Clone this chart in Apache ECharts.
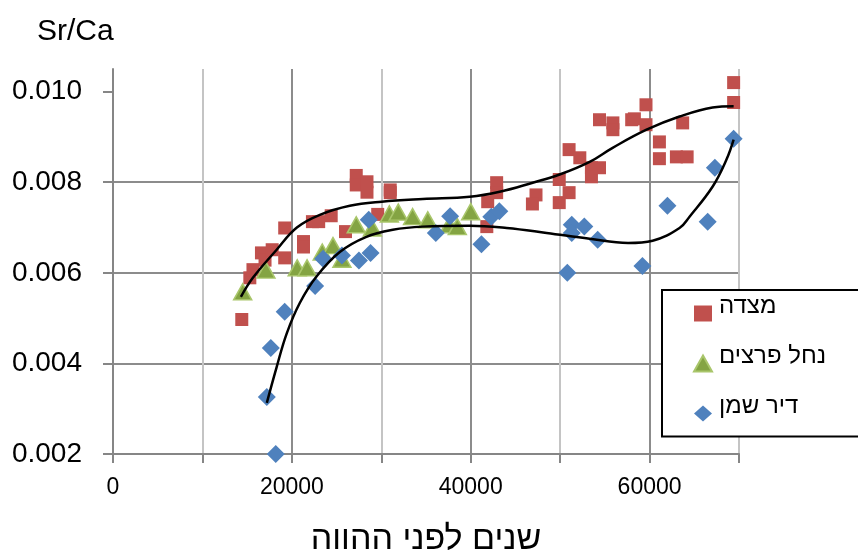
<!DOCTYPE html>
<html><head><meta charset="utf-8">
<script src="https://cdn.jsdelivr.net/npm/echarts@6/dist/echarts.min.js"></script>
<style>html,body{margin:0;padding:0;background:#fff}#c{width:858px;height:550px}</style>
</head><body><div id="c"></div>
<script>
// Series names (legend)
const seriesNames = ['מצדה', 'נחל פרצים', 'דיר שמן'];
const xAxisTitle = 'שנים לפני ההווה';
const yAxisTitle = 'Sr/Ca';
const xLabelValues = [0, 20000, 40000, 60000];
const yLabelValues = [0.002, 0.004, 0.006, 0.008, 0.010];

// Masada (red squares)
const masada = [
  [14400,0.00497],[15300,0.00589],[15650,0.00607],[16600,0.00644],[17000,0.00628],[17800,0.00651],
  [19200,0.00699],[19200,0.00633],[21300,0.00669],[21300,0.00657],[22300,0.00713],[23000,0.00713],
  [24400,0.00726],[26000,0.00691],[27200,0.00815],[27200,0.00794],[28400,0.00801],[28400,0.00778],
  [29600,0.00729],[31000,0.00783],[31000,0.00777],[41800,0.00702],[41900,0.00757],[42900,0.00799],
  [42900,0.00777],[47300,0.00772],[46900,0.00752],[49900,0.00755],[49900,0.00806],[51000,0.00777],
  [51000,0.00872],[52200,0.00854],[53500,0.00832],[53500,0.00812],[54400,0.00832],[54400,0.00938],
  [55900,0.00931],[55900,0.00916],[58000,0.00938],[58300,0.00940],[59600,0.00971],[59600,0.00927],
  [61100,0.00889],[61100,0.00852],[63000,0.00856],[64200,0.00856],[63700,0.00931],[69400,0.01020],
  [69400,0.00976]
];
// Nahal Peratzim (green triangles)
const nahalPeratzim = [
  [14500,0.00558],[17100,0.00606],[20600,0.00611],[21700,0.00611],[23400,0.00646],[24600,0.00660],
  [25600,0.00630],[27200,0.00706],[29000,0.00699],[30900,0.00730],[31900,0.00734],[33500,0.00724],
  [35200,0.00717],[37600,0.00706],[38500,0.00702],[40000,0.00735]
];
// Dir Shemen (blue diamonds)
const dirShemen = [
  [17200,0.00326],[17650,0.00434],[18200,0.00200],[19200,0.00514],[22600,0.00571],[23500,0.00631],
  [25600,0.00638],[27500,0.00627],[28800,0.00644],[28600,0.00717],[36100,0.00688],[37700,0.00725],
  [41200,0.00663],[42300,0.00724],[43200,0.00736],[50800,0.00600],[51300,0.00706],[51300,0.00688],
  [52700,0.00702],[54200,0.00673],[59200,0.00615],[62000,0.00748],[66500,0.00713],[67300,0.00832],
  [69400,0.00896]
];
// Trendlines
const masadaTrend = [
  [14300,0.00547],[15640,0.00589],[18300,0.00651],[20560,0.00700],[23130,0.00728],[26480,0.00748],
  [30050,0.00757],[34640,0.00763],[39890,0.00768],[43240,0.00779],[46930,0.00799],[49940,0.00817],
  [53300,0.00845],[55870,0.00876],[59660,0.00916],[63350,0.00945],[67040,0.00965],[69400,0.00968]
];
const dirShemenTrend = [
  [17200,0.00313],[18300,0.00392],[19440,0.00467],[20900,0.00534],[22800,0.00593],[25360,0.00646],
  [28270,0.00679],[31290,0.00695],[34640,0.00702],[39890,0.00704],[44020,0.00699],[48490,0.00688],
  [53300,0.00675],[57600,0.00666],[60340,0.00671],[63350,0.00699],[64470,0.00724],[67040,0.00790],
  [68600,0.00850],[69400,0.00894]
];

const FONT = "'Liberation Sans', Arial, 'DejaVu Sans', sans-serif";
const chart = echarts.init(document.getElementById('c'));
chart.setOption({
  animation: false,
  backgroundColor: '#fff',
  title: { text: yAxisTitle, left: 32, top: 12,
    textStyle: { fontFamily: FONT, fontSize: 30, fontWeight: 'normal', color: '#000' } },
  grid: { left: 113, right: 119, top: 69, bottom: 96, containLabel: false, outerBoundsMode: 'none' },
  legend: {
    data: seriesNames, orient: 'vertical', left: 662, top: 290,
    padding: [4, 90, 5, 31], itemGap: 12.5, itemWidth: 18, itemHeight: 16,
    borderColor: '#000', borderWidth: 2, backgroundColor: '#fff',
    formatter: name => '{t|' + name + '}\n{s|}',
    textStyle: { fontFamily: FONT, fontSize: 24, color: '#000',
      rich: {
        t: { fontFamily: FONT, fontSize: 24, color: '#000', lineHeight: 26, padding: [0, 0, 0, 2] },
        s: { fontSize: 10, lineHeight: 15 }
      } }
  },
  xAxis: {
    type: 'value', min: 0, max: 70000, interval: 10000,
    name: xAxisTitle, nameLocation: 'middle', nameGap: 69,
    nameTextStyle: { fontFamily: FONT, fontSize: 34, color: '#000' },
    axisLine: { onZero: false, lineStyle: { color: '#868686', width: 2 } },
    axisTick: { show: true, inside: false, length: 9, lineStyle: { color: '#868686', width: 2 } },
    axisLabel: { customValues: xLabelValues, margin: 22, fontFamily: FONT, fontSize: 23, color: '#000',
      formatter: v => String(Math.round(v)) },
    splitLine: { show: true, lineStyle: { color: ['#8c8c8c', '#c4c4c4'], width: 2 } }
  },
  yAxis: {
    type: 'value', min: 0.002, max: 0.0105, interval: 0.002,
    axisLine: { show: true, lineStyle: { color: '#868686', width: 2 } },
    axisTick: { show: true, inside: false, length: 10, customValues: yLabelValues, lineStyle: { color: '#868686', width: 2 } },
    axisLabel: { customValues: yLabelValues, margin: 31, fontFamily: FONT, fontSize: 28, color: '#000',
      formatter: v => v.toFixed(3) },
    splitLine: { show: true, showMaxLine: false, lineStyle: { color: '#8c8c8c', width: 2 } }
  },
  series: [
    { name: seriesNames[0], type: 'scatter', data: masada, symbol: 'rect', symbolSize: 13,
      itemStyle: { color: '#C0504D', opacity: 1 }, z: 3 },
    { name: seriesNames[1], type: 'scatter', data: nahalPeratzim, symbol: 'triangle', symbolSize: [18, 16],
      itemStyle: { color: '#84A443', borderColor: '#A9C66B', borderWidth: 1.5, opacity: 1 }, z: 4 },
    { name: seriesNames[2], type: 'scatter', data: dirShemen, symbol: 'diamond', symbolSize: 18,
      itemStyle: { color: '#4F81BD', opacity: 1 }, z: 5 },
    { name: 'masadaTrend', type: 'line', data: masadaTrend, smooth: 0.4, showSymbol: false, symbol: 'none',
      lineStyle: { color: '#000', width: 2.5 }, z: 6, silent: true },
    { name: 'dirShemenTrend', type: 'line', data: dirShemenTrend, smooth: 0.4, showSymbol: false, symbol: 'none',
      lineStyle: { color: '#000', width: 2.5 }, z: 6, silent: true }
  ]
});
</script></body></html>
